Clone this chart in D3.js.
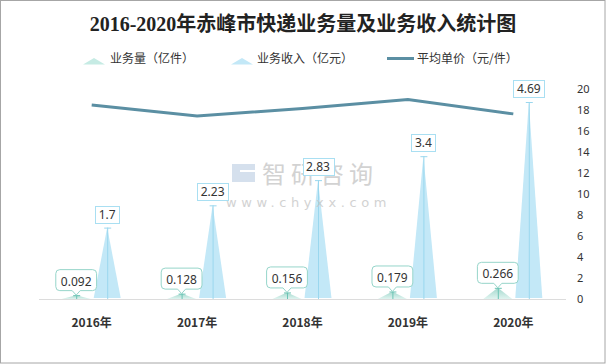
<!DOCTYPE html>
<html><head><meta charset="utf-8">
<script src="https://cdn.jsdelivr.net/npm/d3@7"></script>
<style>body{margin:0;background:#fff}svg{display:block}</style>
</head><body>
<script>
const years = ["2016年","2017年","2018年","2019年","2020年"];
const volume = [0.092,0.128,0.156,0.179,0.266];      // 业务量（亿件）
const revenue = [1.7,2.23,2.83,3.4,4.69];            // 业务收入（亿元）
const unitPrice = [18.48,17.42,18.14,18.99,17.63];   // 平均单价（元/件）
const rightTicks = [0,2,4,6,8,10,12,14,16,18,20];
const volumeLabels = ["0.092","0.128","0.156","0.179","0.266"];
const revenueLabels = ["1.7","2.23","2.83","3.4","4.69"];

(function(){
const W=606,H=364;
const svg=d3.select("body").append("svg").attr("width",W).attr("height",H);
const defs=svg.append("defs");
const g1=defs.append("linearGradient").attr("id","volGrad").attr("x1",0).attr("y1",0).attr("x2",0).attr("y2",1);
g1.append("stop").attr("offset","0%").attr("stop-color","#a3d8cd");
g1.append("stop").attr("offset","100%").attr("stop-color","#e0f4f0");

svg.append("rect").attr("x",0.5).attr("y",0.5).attr("width",W-1.5).attr("height",H-1.5)
  .attr("fill","#fff").attr("stroke","#a6a6a6");

const pl=39,pr=566,base=299,pt=89;
const x=d3.scaleBand().domain(years).range([pl,pr]);
const yL=d3.scaleLinear().domain([0,5]).range([base,pt]);
const yR=d3.scaleLinear().domain([0,20]).range([base,pt]);
const bw=29, off=15.5;
const cx=d=>x(d)+x.bandwidth()/2;

// title
svg.append("text").attr("x",303).attr("y",31).attr("text-anchor","middle")
  .attr("font-family","'Liberation Serif','Noto Sans CJK SC'").attr("font-weight","bold")
  .attr("font-size",20).attr("fill","#222").text("2016-2020年赤峰市快递业务量及业务收入统计图");

// legend
const lg=svg.append("g").attr("font-family","'Noto Sans CJK SC'").attr("font-size",12).attr("fill","#333");
lg.append("path").attr("d","M83,64.5L94,58L105,64.5Z").attr("fill","#c6ebe4");
lg.append("text").attr("x",110).attr("y",63).text("业务量（亿件）");
lg.append("path").attr("d","M231,64.5L242,58L253,64.5Z").attr("fill","#c3e8f7");
lg.append("text").attr("x",257).attr("y",63).text("业务收入（亿元）");
lg.append("line").attr("x1",387).attr("x2",414).attr("y1",58.5).attr("y2",58.5).attr("stroke","#5b8fa3").attr("stroke-width",3);
lg.append("text").attr("x",417).attr("y",63).text("平均单价（元/件）");

// baseline
svg.append("line").attr("x1",pl).attr("x2",pr).attr("y1",base+0.5).attr("y2",base+0.5).attr("stroke","#dcdcdc");

// right axis
const ax=svg.append("g").attr("transform",`translate(${pr},0)`)
  .call(d3.axisRight(yR).tickValues(rightTicks).tickSize(0).tickPadding(11));
ax.select(".domain").remove();
ax.selectAll("text").attr("font-family","'Noto Sans','Open Sans',sans-serif").attr("font-size",11).attr("fill","#333");

// x axis labels
const xa=svg.append("g").attr("transform",`translate(0,${base})`).call(d3.axisBottom(x).tickSize(0).tickPadding(19));
xa.select(".domain").remove();
xa.selectAll("text").attr("font-family","'Noto Sans CJK SC'").attr("font-weight","bold").attr("font-size",12).attr("fill","#333");

// volume triangles
svg.selectAll(".vol").data(years).enter().append("path")
  .attr("d",(d,i)=>{const c=cx(d)-off;return `M${c-bw/2},${base}L${c},${yL(volume[i])}L${c+bw/2},${base}Z`;})
  .attr("fill","url(#volGrad)");
// revenue triangles
svg.selectAll(".rev").data(years).enter().append("path")
  .attr("d",(d,i)=>{const c=cx(d)+off;return `M${c-bw/2+1},${base-1}L${c},${yL(revenue[i])}L${c+bw/2-1},${base-1}Z`;})
  .attr("fill","#c3e8f7");

// stems + caps
function stem(c,yt,col){
  svg.append("line").attr("x1",c+0.5).attr("x2",c+0.5).attr("y1",yt).attr("y2",base).attr("stroke",col);
  svg.append("line").attr("x1",c-3).attr("x2",c+4).attr("y1",yt+0.5).attr("y2",yt+0.5).attr("stroke",col);
}
years.forEach((d,i)=>{
  stem(cx(d)-off,yL(volume[i]),"#6cc4b5");
  stem(cx(d)+off,yL(revenue[i]),"#9ad7ee");
});

// line
svg.append("path").datum(unitPrice)
  .attr("d",d3.line().x((v,i)=>cx(years[i])).y(v=>yR(v)))
  .attr("fill","none").attr("stroke","#5b8fa3").attr("stroke-width",3);

// watermark
const wm=svg.append("g").attr("opacity",0.75);
wm.append("path").attr("d","M232,164H255V170H240V172H255V182H232V176H247V178H232Z").attr("fill","#c8d6e8");
wm.append("text").attr("x",262).attr("y",183).attr("font-family","'Noto Sans CJK SC'").attr("font-size",24)
  .attr("letter-spacing",5).attr("fill","#c4c4c4").text("智研咨询");
wm.append("text").attr("x",226).attr("y",207).attr("font-family","'DejaVu Sans'").attr("font-size",13)
  .attr("letter-spacing",4.6).attr("fill","#c4c4c4").text("www.chyxx.com");

const lf="'Noto Sans','Open Sans',sans-serif";
// revenue labels
years.forEach((d,i)=>{
  const c=cx(d)+off, yt=yL(revenue[i]);
  const t=svg.append("text").attr("x",c).attr("y",yt-9).attr("text-anchor","middle")
    .attr("font-family",lf).attr("font-size",12).attr("fill","#333").text(revenueLabels[i]);
  const bb=t.node().getBBox();
  svg.insert("rect",()=>t.node()).attr("x",Math.round(c-bb.width/2-3.5)+0.5).attr("y",Math.round(yt-22)+0.5)
    .attr("width",Math.round(bb.width+7)).attr("height",17).attr("fill","#fff").attr("stroke","#a9dff2");
});
// volume labels
years.forEach((d,i)=>{
  const c=cx(d)-off, yt=yL(volume[i]);
  const t=svg.append("text").attr("x",c).attr("y",yt-9.5).attr("text-anchor","middle")
    .attr("font-family",lf).attr("font-size",12).attr("fill","#333").text(volumeLabels[i]);
  const bb=t.node().getBBox();
  const w=bb.width+10, h=21, bx=c-w/2, by=yt-4.5-h, r=4;
  const p=`M${bx+r},${by}H${bx+w-r}Q${bx+w},${by} ${bx+w},${by+r}V${by+h-r}Q${bx+w},${by+h} ${bx+w-r},${by+h}`
    +`H${c+4}L${c},${yt}L${c-4},${by+h}H${bx+r}Q${bx},${by+h} ${bx},${by+h-r}V${by+r}Q${bx},${by} ${bx+r},${by}Z`;
  svg.insert("path",()=>t.node()).attr("d",p).attr("fill","#fff").attr("stroke","#96d5ca");
});
})();
</script>
</body></html>
